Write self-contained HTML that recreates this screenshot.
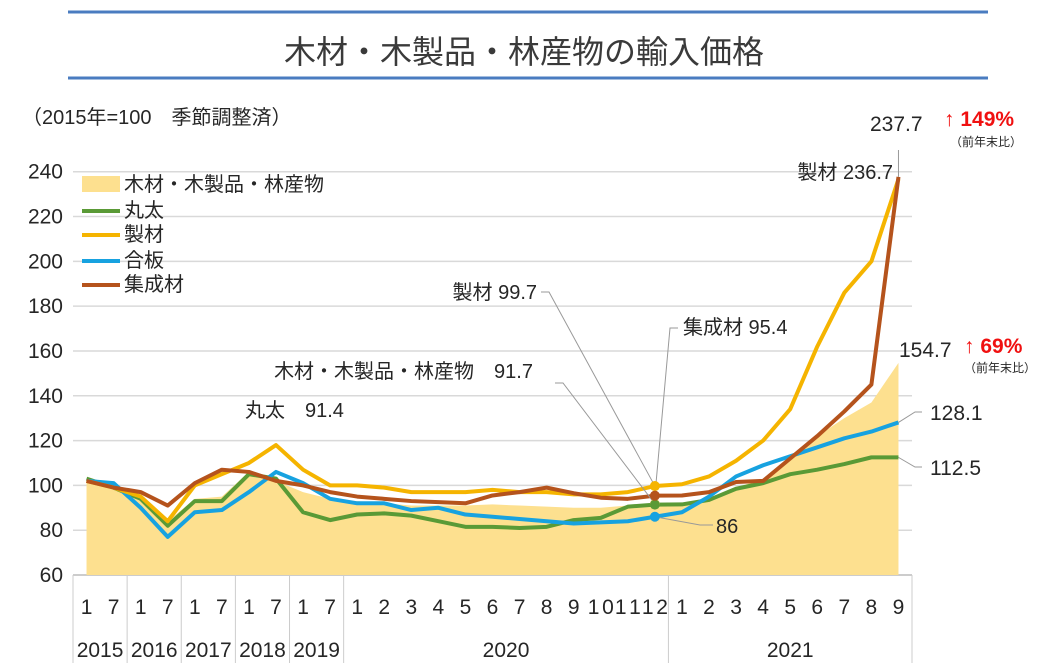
<!DOCTYPE html>
<html><head><meta charset="utf-8">
<style>
body{margin:0;background:#fff;width:1063px;height:663px;overflow:hidden;font-family:"Liberation Sans","Noto Sans CJK JP",sans-serif;}
svg text{font-family:"Liberation Sans","Noto Sans CJK JP",sans-serif;fill:#262626;}
</style></head><body>
<svg id="chart" width="1063" height="663" xmlns="http://www.w3.org/2000/svg">
<line x1="68" y1="12" x2="988" y2="12" stroke="#4a7cc0" stroke-width="3"/>
<text x="524" y="63" font-size="32" text-anchor="middle" style="fill:#3a3a3a">木材・木製品・林産物の輸入価格</text>
<line x1="68" y1="78" x2="988" y2="78" stroke="#4a7cc0" stroke-width="3"/>
<text x="22" y="124" font-size="20">（2015年=100　季節調整済）</text>
<g id="grid"></g><g id="area"></g><g id="lines"></g><g id="xaxis"></g><g id="yaxis"></g>
<g id="legend">
<rect x="82" y="176" width="38" height="16" fill="#fde08f"/>
<text x="124" y="191" font-size="20">木材・木製品・林産物</text>
<line x1="82" y1="211" x2="120" y2="211" stroke="#5a9a36" stroke-width="4"/>
<text x="124" y="217" font-size="20">丸太</text>
<line x1="82" y1="235" x2="120" y2="235" stroke="#f5b400" stroke-width="4"/>
<text x="124" y="241" font-size="20">製材</text>
<line x1="82" y1="261" x2="120" y2="261" stroke="#17a2e0" stroke-width="4"/>
<text x="124" y="267" font-size="20">合板</text>
<line x1="82" y1="285" x2="120" y2="285" stroke="#b5531c" stroke-width="4"/>
<text x="124" y="291" font-size="20">集成材</text>
</g>
<g id="annot"></g>
</svg>
<script>
const categories=["1","7","1","7","1","7","1","7","1","7","1","2","3","4","5","6","7","8","9","10","11","12","1","2","3","4","5","6","7","8","9"];
const years=[["2015",0,2],["2016",2,4],["2017",4,6],["2018",6,8],["2019",8,10],["2020",10,22],["2021",22,31]];
const totalVals=[103,99,95,84,94,95,106,102,97,94,93,92,91,91,91,91.5,91,90.5,90,90,91,91.7,92,94,99,103,111,122,130,137,154.7];
const logVals=[103,99,94,82,93,93,105,103,88,84.5,87,87.5,86.5,84,81.5,81.5,81,81.5,84.5,85.5,90.5,91.4,91.5,93.5,98.5,101,105,107,109.5,112.5,112.5];
const lumberVals=[102,99,95,84,100,105,110,118,107,100,100,99,97,97,97,98,97,97,96,96,97,99.7,100.5,104,111,120,134,162,186,200,236.7];
const plywoodVals=[102,101,90,77,88,89,97,106,101,94,92,92,89,90,87,86,85,84,83,83.5,84,86,88,95,104,109,113,117,121,124,128.1];
const glulamVals=[102,99,97,91,101,107,106,102,100,97,95,94,93,92.5,92,95.5,97,99,96.5,94.5,94,95.4,95.5,97,101.5,102,112,122,133,145,237.7];
const yTicks=[60,80,100,120,140,160,180,200,220,240];
const X0=73,X1=912,Y0=575,Ymin=60,PPU=2.2405;
const bw=(X1-X0)/categories.length;
const x=i=>X0+bw*(i+0.5);
const y=v=>Y0-(v-Ymin)*PPU;
const NS="http://www.w3.org/2000/svg";
function mk(p,t,a){const e=document.createElementNS(NS,t);for(const k in a)e.setAttribute(k,a[k]);document.getElementById(p).appendChild(e);return e;}
yTicks.forEach(v=>{
 const g=mk('grid','line',{x1:X0,x2:X1,y1:y(v),y2:y(v),stroke:v===60?'#bbb':'#d9d9d9','stroke-width':1.5});
 
 
 const t=mk('yaxis','text',{x:63,y:y(v)+7,'font-size':21,'text-anchor':'end'});
 t.textContent=v;
 
 
});
let d='M'+x(0)+','+Y0;
totalVals.forEach((v,i)=>d+=' L'+x(i)+','+y(v));
d+=' L'+x(totalVals.length-1)+','+Y0+' Z';
const ar=mk('area','path',{d:d,fill:'#fde08f'});


[[logVals,'#5a9a36','line-logs'],[plywoodVals,'#17a2e0','line-plywood'],[lumberVals,'#f5b400','line-lumber'],[glulamVals,'#b5531c','line-glulam']].forEach(([vals,c,n])=>{
 const l=mk('lines','polyline',{points:vals.map((v,i)=>x(i)+','+y(v)).join(' '),fill:'none',stroke:c,'stroke-width':4,'stroke-linejoin':'round'});
 
 
});
categories.forEach((c,i)=>{
 const t=mk('xaxis','text',{x:x(i),y:614,'font-size':21,'text-anchor':'middle'});
 t.textContent=c;
 if(c.length>1)t.setAttribute('textLength','26');
 
 
});
years.forEach(([yr,a,b])=>{
 const t=mk('xaxis','text',{x:(X0+bw*a+X0+bw*b)/2,y:657,'font-size':21,'text-anchor':'middle'});
 t.textContent=yr;
 
 
 const l=mk('xaxis','line',{x1:X0+bw*a,x2:X0+bw*a,y1:Y0,y2:663,stroke:'#ccc','stroke-width':1});
 
 
});
const le=mk('xaxis','line',{x1:X1,x2:X1,y1:Y0,y2:663,stroke:'#ccc','stroke-width':1});


const ai=21, L=30;
function txt(s,ax,ay,fs,col,anchor,w,n){const t=mk('annot','text',{x:ax,y:ay,'font-size':fs,'text-anchor':anchor||'start'});t.textContent=s;if(col)t.style.fill=col;if(w)t.setAttribute('font-weight',w);return t;}
function ln(pts,n){const p=mk('annot','polyline',{points:pts,fill:'none',stroke:'#999','stroke-width':1});}
ln(`541,292 549,292 ${x(ai)},${y(lumberVals[ai])}`,'leader-lumber');
ln(`555,383 563,383 ${x(ai)},${y(totalVals[ai])}`,'leader-total');
ln(`678,328 670,328 ${x(ai)},${y(glulamVals[ai])}`,'leader-glulam');
ln(`${x(ai)},${y(plywoodVals[ai])} 700,525 713,525`,'leader-plywood');
ln(`${x(L)},${y(glulamVals[L])} ${x(L)},150`,'leader-glulam-end');
ln(`${x(L)},${y(plywoodVals[L])} 915,412 922,412`,'leader-plywood-end');
ln(`${x(L)},${y(logVals[L])} 915,467 922,467`,'leader-logs-end');
[[lumberVals,'#f5b400'],[totalVals,'#f5d060'],[logVals,'#5a9a36'],[glulamVals,'#b5531c'],[plywoodVals,'#17a2e0']].forEach(([v,c])=>{const m=mk('annot','circle',{cx:x(ai),cy:y(v[ai]),r:5,fill:c});});
txt('製材 '+lumberVals[ai],537,299,20,null,'end',null,'label-lumber-dec');
txt('木材・木製品・林産物　'+totalVals[ai],533,378,20,null,'end',null,'label-total-dec');
txt('丸太　'+logVals[ai],245,417,20,null,'start',null,'label-logs-dec');
txt('集成材 '+glulamVals[ai],683,334,20,null,'start',null,'label-glulam-dec');
txt(String(plywoodVals[ai]),716,533,20,null,'start',null,'label-plywood-dec');
txt('237.7',870,131,21,null,'start',null,'label-glulam-end');
txt('製材  '+lumberVals[L],893,179,20,null,'end',null,'label-lumber-end');
txt('154.7',899,357,21,null,'start',null,'label-total-end');
txt(String(plywoodVals[L]),930,420,21,null,'start',null,'label-plywood-end');
txt(String(logVals[L]),930,475,21,null,'start',null,'label-logs-end');
txt('↑ 149%',944,126,21,'#f01010','start','bold','change-glulam');
txt('（前年末比）',950,146,12,null,'start',null,'change-glulam-note');
txt('↑ 69%',964,353,21,'#f01010','start','bold','change-total');
txt('（前年末比）',964,372,12,null,'start',null,'change-total-note');
</script>
</body></html>
